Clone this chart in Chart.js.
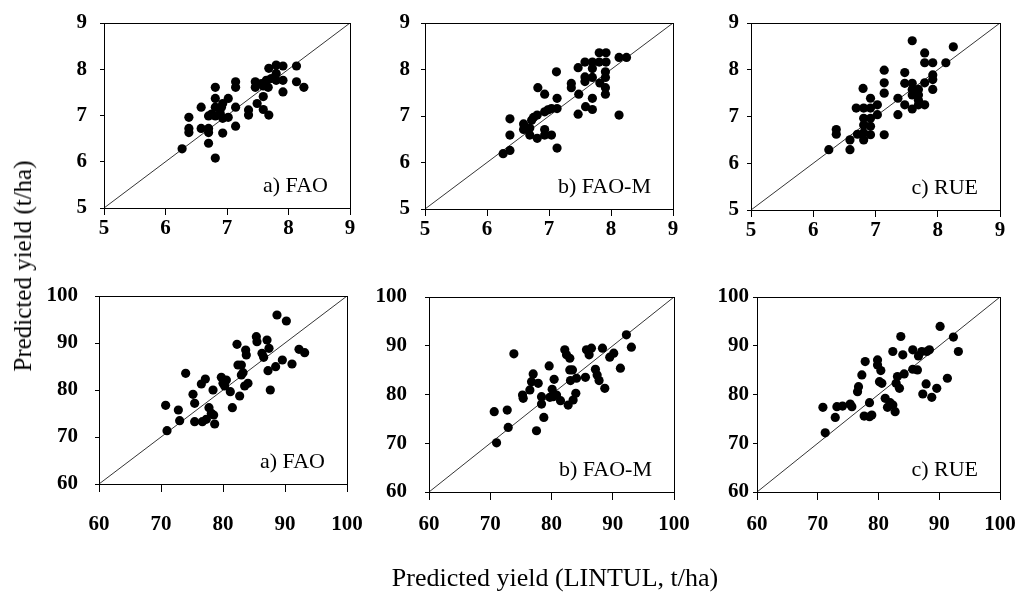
<!DOCTYPE html>
<html>
<head>
<meta charset="utf-8">
<script src="https://cdn.jsdelivr.net/npm/chart.js@4.4.1/dist/chart.umd.min.js"></script>
<style>
    html, body { margin: 0; padding: 0; background: #fff; }
    #page { position: relative; width: 1017px; height: 592px; overflow: hidden; background: #fff; }
    .panel { position: absolute; }
    .title { position: absolute; font-family: "Liberation Serif", "Times New Roman", serif; font-size: 26px; color: #000; white-space: nowrap; }
    #titleY { left: 23px; top: 266px; transform: translate(-50%, -50%) rotate(-90deg); font-size: 25px; }
    #titleX { left: 555px; top: 578px; transform: translate(-50%, -50%); }
</style>
</head>
<body>
<div id="page">
    <div class="panel" id="p1"><canvas id="c1"></canvas></div>
    <div class="panel" id="p2"><canvas id="c2"></canvas></div>
    <div class="panel" id="p3"><canvas id="c3"></canvas></div>
    <div class="panel" id="p4"><canvas id="c4"></canvas></div>
    <div class="panel" id="p5"><canvas id="c5"></canvas></div>
    <div class="panel" id="p6"><canvas id="c6"></canvas></div>
    <div class="title" id="titleY">Predicted yield (t/ha)</div>
    <div class="title" id="titleX">Predicted yield (LINTUL, t/ha)</div>
</div>
<script>
// tick labels
const topTicks = [5, 6, 7, 8, 9];
const bottomTicks = [60, 70, 80, 90, 100];
const panelLabels = ['a) FAO', 'b) FAO-M', 'c) RUE', 'a) FAO', 'b) FAO-M', 'c) RUE'];

// top row (t/ha)
const topFaoX = [6.27, 6.38, 6.38, 6.38, 6.58, 6.58, 6.70, 6.70, 6.70, 6.81, 6.81, 6.81, 6.81, 6.70, 6.81, 6.91, 6.93, 6.93, 7.02, 7.02, 6.93, 7.14, 7.14, 7.14, 7.14, 7.35, 7.35, 7.46, 7.46, 7.49, 7.59, 7.59, 7.68, 7.56, 7.64, 7.67, 7.68, 7.80, 7.91, 7.80, 7.80, 7.91, 7.91, 8.13, 8.13, 8.25, 7.72, 7.59, 6.89, 6.75];
const topFaoY = [6.28, 6.96, 6.72, 6.63, 7.18, 6.72, 6.72, 6.63, 6.40, 7.61, 7.37, 7.18, 6.99, 6.99, 6.08, 7.18, 7.26, 6.94, 7.37, 6.96, 6.62, 7.18, 7.73, 7.61, 6.77, 7.12, 7.01, 7.73, 7.61, 7.26, 7.41, 7.13, 7.01, 7.69, 7.76, 7.61, 8.02, 8.09, 8.07, 7.91, 7.76, 7.76, 7.51, 8.07, 7.73, 7.61, 7.80, 7.64, 7.05, 7.03];

const topFaoMX = [6.26, 6.37, 6.37, 6.37, 6.59, 6.59, 6.69, 6.69, 6.72, 6.81, 6.81, 6.82, 6.93, 6.93, 6.93, 6.93, 7.04, 7.04, 7.12, 7.13, 7.13, 7.13, 7.36, 7.36, 7.47, 7.48, 7.47, 7.58, 7.58, 7.58, 7.59, 7.70, 7.70, 7.70, 7.70, 7.70, 7.81, 7.81, 7.82, 7.92, 7.92, 7.91, 7.91, 7.91, 7.91, 8.13, 8.25, 8.13, 6.75, 6.98];
const topFaoMY = [6.19, 6.26, 6.59, 6.94, 6.83, 6.71, 6.74, 6.59, 6.91, 7.02, 6.52, 7.61, 7.47, 7.09, 6.71, 6.59, 6.59, 7.16, 7.95, 7.38, 7.16, 6.31, 7.70, 7.61, 8.04, 7.47, 7.04, 8.16, 7.84, 7.74, 7.20, 8.16, 8.02, 7.83, 7.38, 7.14, 8.16, 8.36, 7.71, 8.36, 8.16, 7.95, 7.83, 7.61, 7.47, 8.26, 8.26, 7.02, 6.97, 7.13];

const topRueX = [6.25, 6.37, 6.37, 6.59, 6.59, 6.69, 6.71, 6.80, 6.81, 6.81, 6.81, 6.81, 6.81, 6.92, 6.92, 6.92, 6.92, 6.92, 7.03, 7.03, 7.14, 7.14, 7.14, 7.14, 7.36, 7.36, 7.47, 7.47, 7.47, 7.59, 7.59, 7.59, 7.59, 7.59, 7.69, 7.69, 7.69, 7.69, 7.79, 7.79, 7.79, 7.79, 7.92, 7.92, 7.92, 7.92, 8.13, 8.25];
const topRueY = [6.29, 6.72, 6.62, 6.50, 6.29, 7.18, 6.62, 7.60, 7.18, 6.96, 6.82, 6.65, 6.50, 7.39, 7.18, 6.96, 6.79, 6.61, 7.04, 7.25, 7.99, 7.72, 7.50, 6.61, 7.39, 7.04, 7.94, 7.71, 7.25, 8.62, 7.71, 7.58, 7.46, 7.16, 7.58, 7.46, 7.35, 7.25, 8.36, 8.15, 7.72, 7.25, 8.15, 7.89, 7.79, 7.58, 8.15, 8.49];

// bottom row
const botFaoX = [70.75, 70.97, 72.80, 73.01, 73.98, 75.16, 75.43, 75.43, 76.51, 76.67, 77.15, 77.31, 77.74, 78.12, 78.39, 78.66, 78.49, 79.73, 80.00, 80.54, 80.27, 81.18, 81.51, 82.26, 82.42, 82.69, 82.96, 82.96, 83.23, 83.49, 83.66, 83.76, 84.03, 85.38, 85.48, 86.29, 86.56, 87.10, 87.42, 87.26, 87.63, 88.49, 88.71, 90.22, 89.57, 91.13, 92.26, 93.17];
const botFaoY = [76.74, 71.35, 75.74, 73.48, 83.55, 79.08, 77.16, 73.26, 81.28, 73.26, 82.34, 73.76, 76.24, 75.04, 80.00, 72.77, 74.68, 82.70, 81.42, 82.13, 80.85, 79.65, 76.24, 89.72, 85.32, 78.72, 85.32, 83.19, 83.69, 80.85, 88.51, 87.45, 81.42, 91.35, 90.28, 87.80, 86.95, 90.64, 88.87, 84.11, 80.00, 84.96, 95.96, 94.68, 86.38, 85.53, 88.65, 87.94];

const botFaoMX = [70.65, 71.03, 72.77, 72.93, 73.86, 75.27, 75.38, 76.47, 76.74, 77.01, 77.55, 77.83, 78.37, 78.37, 78.75, 79.62, 79.73, 80.11, 80.43, 80.82, 81.47, 82.17, 82.45, 82.72, 82.99, 82.99, 83.42, 83.10, 83.53, 83.97, 84.08, 85.54, 85.71, 86.14, 86.52, 87.17, 87.45, 87.77, 88.32, 88.70, 89.51, 90.16, 91.25, 92.23, 93.04, 80.27];
const botFaoMY = [76.47, 70.09, 76.81, 73.24, 88.34, 79.90, 79.21, 80.93, 82.64, 84.22, 72.56, 82.30, 79.55, 78.04, 75.30, 85.87, 79.42, 81.06, 83.12, 79.90, 78.73, 89.16, 88.13, 77.84, 87.44, 85.04, 85.04, 82.85, 78.87, 80.24, 83.33, 83.53, 89.16, 88.13, 89.50, 85.18, 84.01, 82.85, 89.50, 81.27, 87.65, 88.47, 85.39, 92.25, 89.71, 79.55];

const botRueX = [70.85, 71.23, 72.88, 73.15, 74.08, 75.34, 75.62, 76.55, 76.71, 77.26, 77.81, 77.64, 78.52, 78.52, 78.90, 79.84, 79.84, 80.38, 80.16, 80.55, 81.10, 81.48, 81.92, 82.36, 82.36, 82.74, 82.90, 83.12, 83.45, 83.67, 84.00, 84.22, 85.64, 85.64, 86.41, 86.58, 87.12, 87.29, 87.84, 88.38, 88.77, 89.59, 90.14, 91.34, 92.33, 93.15, 87.95];
const botRueY = [77.36, 72.14, 75.30, 77.50, 77.63, 78.04, 77.50, 80.58, 81.61, 84.01, 86.76, 75.57, 78.32, 75.44, 75.78, 87.10, 86.07, 84.91, 82.64, 82.30, 79.21, 77.36, 78.32, 88.82, 77.84, 76.47, 82.30, 83.67, 81.27, 91.90, 88.13, 84.22, 89.16, 85.18, 85.04, 87.92, 88.82, 80.10, 82.16, 89.16, 79.42, 81.27, 93.96, 83.33, 91.77, 88.82, 88.82];

// plot-area boxes measured on the picture
const layout = [
    { l: 104, t: 23, r: 350, b: 208, xPad: 1, yPad: 13 },
    { l: 425, t: 23, r: 673, b: 209, xPad: 1, yPad: 11 },
    { l: 751, t: 23, r: 1000, b: 210, xPad: 1, yPad: 8 },
    { l: 99, t: 296, r: 347, b: 484, xPad: 20, yPad: 17 },
    { l: 429, t: 297, r: 674, b: 492, xPad: 12, yPad: 18 },
    { l: 757, t: 297, r: 1000, b: 492, xPad: 12, yPad: 4 }
];

const panelDecor = {
    id: 'panelDecor',
    afterDatasetsDraw(chart, args, opts) {
        const { ctx, chartArea: a } = chart;
        ctx.save();
        ctx.strokeStyle = '#000';
        ctx.lineWidth = 1;
        const x0 = Math.round(a.left) + 0.5, y0 = Math.round(a.top) + 0.5;
        ctx.strokeRect(x0, y0, Math.round(a.right) - Math.round(a.left), Math.round(a.bottom) - Math.round(a.top));
        ctx.font = '22px "Liberation Serif", "Times New Roman", serif';
        ctx.fillStyle = '#000';
        ctx.textAlign = 'right';
        ctx.textBaseline = 'alphabetic';
        ctx.fillText(opts.text, a.right - 22, a.bottom - 16);
        ctx.restore();
    }
};

function zip(xs, ys) {
    return xs.map((x, i) => ({ x: x, y: ys[i] }));
}

function makePanel(n, xs, ys, ticks, top) {
    const box = layout[n];
    // generous room around the plot area so Chart.js never shrinks it
    const yW = 70, padTop = 45, padRight = 55, xH = 60;
    const tickFont = { family: '"Liberation Serif", "Times New Roman", serif', size: 21, weight: 'bold' };
    const el = document.getElementById('p' + (n + 1));
    el.style.left = (box.l - yW) + 'px';
    el.style.top = (box.t - padTop) + 'px';
    el.style.width = (box.r - box.l + yW + padRight) + 'px';
    el.style.height = (box.b - box.t + padTop + xH) + 'px';

    const lo = ticks[0], hi = ticks[ticks.length - 1];
    new Chart(document.getElementById('c' + (n + 1)), {
        type: 'scatter',
        data: {
            datasets: [{
                data: zip(xs, ys),
                backgroundColor: '#000',
                borderWidth: 0,
                pointRadius: 4.6,
                pointHoverRadius: 4.6
            }, {
                type: 'line',
                data: [{ x: lo, y: lo }, { x: hi, y: hi }],
                borderColor: '#000',
                borderWidth: 0.8,
                pointRadius: 0,
                fill: false
            }]
        },
        options: {
            responsive: true,
            maintainAspectRatio: false,
            animation: false,
            events: [],
            layout: { padding: { top: padTop, right: padRight, left: 0, bottom: 0 } },
            plugins: {
                legend: { display: false },
                tooltip: { enabled: false },
                panelDecor: { text: panelLabels[n] }
            },
            scales: {
                x: {
                    type: 'linear',
                    min: lo,
                    max: hi,
                    afterBuildTicks: s => { s.ticks = ticks.map(v => ({ value: v })); },
                    afterFit: s => { s.height = xH; },
                    grid: { drawOnChartArea: false, drawTicks: true, tickLength: top ? 7 : 8, color: '#000' },
                    border: { display: true, color: '#000', width: 1 },
                    ticks: { font: tickFont, color: '#000', padding: box.xPad, maxRotation: 0, autoSkip: false }
                },
                y: {
                    type: 'linear',
                    min: lo,
                    max: hi,
                    afterBuildTicks: s => { s.ticks = ticks.map(v => ({ value: v })); },
                    afterFit: s => { s.width = yW; },
                    grid: { drawOnChartArea: false, drawTicks: true, tickLength: 4, color: '#000' },
                    border: { display: true, color: '#000', width: 1 },
                    ticks: { font: tickFont, color: '#000', padding: box.yPad, autoSkip: false }
                }
            }
        },
        plugins: [panelDecor]
    });
}

makePanel(0, topFaoX, topFaoY, topTicks, true);
makePanel(1, topFaoMX, topFaoMY, topTicks, true);
makePanel(2, topRueX, topRueY, topTicks, true);
makePanel(3, botFaoX, botFaoY, bottomTicks, false);
makePanel(4, botFaoMX, botFaoMY, bottomTicks, false);
makePanel(5, botRueX, botRueY, bottomTicks, false);
</script>
</body>
</html>
